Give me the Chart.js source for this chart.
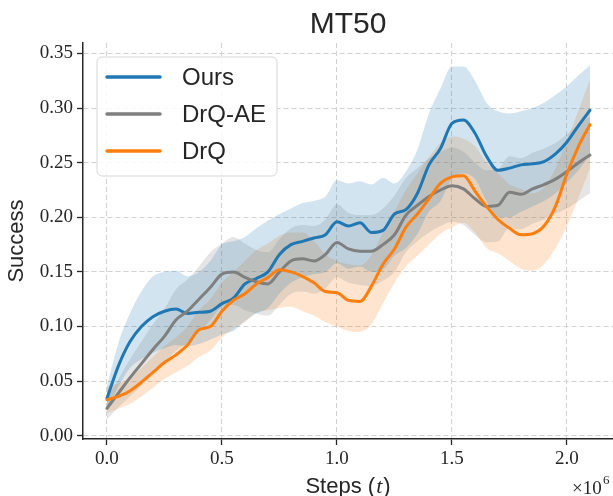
<!DOCTYPE html>
<html>
<head>
<meta charset="utf-8">
<script src="https://cdn.jsdelivr.net/npm/chart.js@4.4.0/dist/chart.umd.min.js"></script>
<style>
  html, body { margin: 0; padding: 0; background: #fff; }
</style>
</head>
<body>
<canvas id="chart" width="613" height="496"></canvas>
<script>
var chartTitle = 'MT50';
var seriesNames = ['Ours', 'DrQ-AE', 'DrQ'];
var xTicks = [0, 0.5, 1, 1.5, 2];
var yTicks = [0, 0.05, 0.1, 0.15, 0.2, 0.25, 0.3, 0.35];

// steps in millions
var steps = [0.00, 0.05, 0.10, 0.15, 0.20, 0.25, 0.30, 0.35, 0.40, 0.45,
             0.50, 0.55, 0.60, 0.65, 0.70, 0.75, 0.80, 0.85, 0.90, 0.95,
             1.00, 1.05, 1.10, 1.15, 1.20, 1.25, 1.30, 1.35, 1.40, 1.45,
             1.50, 1.55, 1.60, 1.65, 1.70, 1.75, 1.80, 1.85, 1.90, 1.95,
             2.00, 2.05, 2.10];

var oursMean = [0.034, 0.064, 0.086, 0.100, 0.109, 0.114, 0.116, 0.112, 0.113, 0.114,
                0.121, 0.126, 0.139, 0.144, 0.150, 0.166, 0.175, 0.178, 0.181, 0.184,
                0.196, 0.192, 0.195, 0.186, 0.188, 0.203, 0.207, 0.222, 0.248, 0.263,
                0.286, 0.289, 0.277, 0.256, 0.243, 0.245, 0.248, 0.249, 0.251, 0.258,
                0.269, 0.284, 0.298];
var oursLow = [0.024, 0.045, 0.062, 0.070, 0.076, 0.080, 0.083, 0.082, 0.084, 0.088,
               0.093, 0.096, 0.105, 0.112, 0.117, 0.130, 0.140, 0.145, 0.148, 0.150,
               0.158, 0.153, 0.155, 0.150, 0.152, 0.165, 0.172, 0.185, 0.205, 0.215,
               0.235, 0.240, 0.235, 0.215, 0.200, 0.200, 0.205, 0.210, 0.215, 0.222,
               0.232, 0.243, 0.258];
var oursHigh = [0.045, 0.085, 0.112, 0.132, 0.146, 0.150, 0.151, 0.146, 0.150, 0.160,
                0.175, 0.178, 0.182, 0.190, 0.197, 0.203, 0.208, 0.213, 0.215, 0.219,
                0.234, 0.231, 0.233, 0.230, 0.236, 0.231, 0.242, 0.262, 0.295, 0.318,
                0.338, 0.338, 0.325, 0.305, 0.297, 0.295, 0.297, 0.300, 0.305, 0.312,
                0.320, 0.330, 0.339];

var drqaeMean = [0.025, 0.039, 0.053, 0.066, 0.079, 0.091, 0.106, 0.114, 0.125, 0.136,
                 0.148, 0.150, 0.145, 0.141, 0.139, 0.150, 0.160, 0.162, 0.160, 0.166,
                 0.177, 0.171, 0.169, 0.169, 0.175, 0.184, 0.202, 0.211, 0.219, 0.225,
                 0.229, 0.226, 0.217, 0.210, 0.211, 0.223, 0.221, 0.226, 0.230, 0.235,
                 0.242, 0.250, 0.257];
var drqaeLow = [0.015, 0.026, 0.036, 0.046, 0.056, 0.066, 0.078, 0.085, 0.095, 0.106,
                0.118, 0.120, 0.115, 0.112, 0.110, 0.120, 0.130, 0.132, 0.130, 0.135,
                0.145, 0.140, 0.138, 0.137, 0.142, 0.150, 0.168, 0.178, 0.186, 0.192,
                0.196, 0.193, 0.184, 0.177, 0.178, 0.190, 0.189, 0.194, 0.198, 0.203,
                0.208, 0.215, 0.222];
var drqaeHigh = [0.035, 0.052, 0.070, 0.086, 0.102, 0.116, 0.134, 0.143, 0.155, 0.168,
                 0.176, 0.182, 0.176, 0.170, 0.168, 0.180, 0.190, 0.193, 0.192, 0.198,
                 0.212, 0.204, 0.202, 0.202, 0.208, 0.220, 0.236, 0.245, 0.254, 0.260,
                 0.264, 0.260, 0.250, 0.243, 0.244, 0.256, 0.254, 0.259, 0.263, 0.268,
                 0.276, 0.285, 0.292];

var drqMean = [0.033, 0.036, 0.041, 0.049, 0.058, 0.067, 0.074, 0.083, 0.097, 0.100,
               0.114, 0.124, 0.130, 0.139, 0.145, 0.152, 0.150, 0.146, 0.140, 0.132,
               0.131, 0.124, 0.123, 0.137, 0.157, 0.171, 0.191, 0.203, 0.217, 0.231,
               0.237, 0.238, 0.224, 0.210, 0.198, 0.190, 0.184, 0.185, 0.192, 0.210,
               0.240, 0.265, 0.285];
var drqLow = [0.021, 0.025, 0.029, 0.036, 0.044, 0.052, 0.058, 0.064, 0.072, 0.078,
              0.090, 0.098, 0.104, 0.113, 0.115, 0.117, 0.118, 0.114, 0.110, 0.104,
              0.100, 0.096, 0.095, 0.102, 0.121, 0.140, 0.155, 0.165, 0.175, 0.185,
              0.191, 0.195, 0.186, 0.172, 0.167, 0.160, 0.153, 0.151, 0.157, 0.172,
              0.192, 0.218, 0.245];
var drqHigh = [0.045, 0.048, 0.053, 0.062, 0.072, 0.082, 0.090, 0.100, 0.115, 0.125,
               0.140, 0.150, 0.160, 0.170, 0.176, 0.183, 0.186, 0.186, 0.178, 0.166,
               0.160, 0.157, 0.156, 0.165, 0.186, 0.205, 0.225, 0.240, 0.255, 0.268,
               0.274, 0.272, 0.265, 0.250, 0.240, 0.230, 0.226, 0.222, 0.227, 0.245,
               0.270, 0.298, 0.326];

var colors = ['#1f77b4', '#7f7f7f', '#ff7f0e'];
var bandColors = ['rgba(31,119,180,0.2)', 'rgba(127,127,127,0.2)', 'rgba(255,127,14,0.2)'];
var textColor = '#262626';

function pts(arr) {
    return arr.map(function (v, i) { return { x: steps[i], y: v }; });
}

function band(low, high, color) {
    return [
        { data: pts(low), borderColor: 'rgba(0,0,0,0)', pointRadius: 0, fill: false, order: 10,
          cubicInterpolationMode: 'monotone' },
        { data: pts(high), borderColor: 'rgba(0,0,0,0)', pointRadius: 0, fill: '-1', backgroundColor: color, order: 10,
          cubicInterpolationMode: 'monotone' }
    ];
}

function line(name, mean, color, order) {
    return { label: name, data: pts(mean), borderColor: color, borderWidth: 3, pointRadius: 0,
             fill: false, order: order, borderJoinStyle: 'round', borderCapStyle: 'round',
             cubicInterpolationMode: 'monotone' };
}

var datasets = []
    .concat(band(oursLow, oursHigh, bandColors[0]))
    .concat(band(drqaeLow, drqaeHigh, bandColors[1]))
    .concat(band(drqLow, drqHigh, bandColors[2]))
    .concat([
        line(seriesNames[0], oursMean, colors[0], 3),
        line(seriesNames[1], drqaeMean, colors[1], 2),
        line(seriesNames[2], drqMean, colors[2], 1)
    ]);

// title, inner legend, italic t of the x label and the x10^6 offset label
var decorPlugin = {
    id: 'decor',
    afterDraw: function (chart) {
        var ctx = chart.ctx, area = chart.chartArea;
        ctx.save();
        ctx.fillStyle = textColor;
        ctx.font = '30px "Liberation Sans"';
        ctx.textAlign = 'center';
        ctx.textBaseline = 'middle';
        ctx.fillText(chartTitle, (area.left + area.right) / 2, 25);

        // x axis label: "Steps (" + italic t + ")"
        var cx = (area.left + area.right) / 2;
        var a = 'Steps (', t = 't', b = ')';
        ctx.textAlign = 'left';
        ctx.textBaseline = 'alphabetic';
        ctx.font = '22px "Liberation Sans"';
        var wa = ctx.measureText(a).width, wb = ctx.measureText(b).width;
        ctx.font = 'italic 22px "Liberation Serif"';
        var wt = ctx.measureText(t).width + 2;
        var x0 = cx - (wa + wt + wb) / 2;
        ctx.font = '22px "Liberation Sans"';
        ctx.fillText(a, x0, 493);
        ctx.font = 'italic 22px "Liberation Serif"';
        ctx.fillText(t, x0 + wa + 1, 493);
        ctx.font = '22px "Liberation Sans"';
        ctx.fillText(b, x0 + wa + wt, 493);

        ctx.font = '19px "Liberation Serif"';
        ctx.fillText('\u00d710', 572, 494);
        ctx.font = '13px "Liberation Serif"';
        ctx.fillText('6', 603, 484);

        // legend box
        var bx = 97, by = 57, bw = 180, bh = 119, r = 5;
        ctx.beginPath();
        ctx.moveTo(bx + r, by);
        ctx.arcTo(bx + bw, by, bx + bw, by + bh, r);
        ctx.arcTo(bx + bw, by + bh, bx, by + bh, r);
        ctx.arcTo(bx, by + bh, bx, by, r);
        ctx.arcTo(bx, by, bx + bw, by, r);
        ctx.closePath();
        ctx.fillStyle = 'rgba(255,255,255,0.85)';
        ctx.fill();
        ctx.strokeStyle = '#d6d6d6';
        ctx.lineWidth = 1;
        ctx.stroke();

        ctx.font = '24px "Liberation Sans"';
        ctx.textBaseline = 'middle';
        for (var i = 0; i < seriesNames.length; i++) {
            var yy = 77 + i * 37;
            ctx.strokeStyle = colors[i];
            ctx.lineWidth = 3.5;
            ctx.lineCap = 'round';
            ctx.beginPath();
            ctx.moveTo(107, yy);
            ctx.lineTo(160, yy);
            ctx.stroke();
            ctx.fillStyle = textColor;
            ctx.fillText(seriesNames[i], 182, yy + 1);
        }
        ctx.restore();
    }
};

var ctx = document.getElementById('chart').getContext('2d');
var chart = new Chart(ctx, {
    type: 'line',
    data: { datasets: datasets },
    plugins: [decorPlugin],
    options: {
        responsive: false,
        animation: false,
        devicePixelRatio: 1,
        layout: { padding: { top: 43, left: 0, right: 0, bottom: 0 } },
        plugins: {
            legend: { display: false },
            tooltip: { enabled: false },
            filler: { propagate: false }
        },
        scales: {
            x: {
                type: 'linear',
                min: -0.104,
                max: 2.2,
                afterBuildTicks: function (s) { s.ticks = xTicks.map(function (v) { return { value: v }; }); },
                afterFit: function (s) { s.height = 57; },
                ticks: {
                    color: textColor,
                    font: { family: '"Liberation Serif"', size: 19 },
                    padding: 3,
                    maxRotation: 0,
                    callback: function (v) { return Number(v).toFixed(1); }
                },
                grid: { color: '#d2d2d2', lineWidth: 1, tickColor: textColor, tickLength: 6, tickWidth: 1.3 },
                border: { display: true, color: textColor, width: 1.5, dash: [5, 3] }
            },
            y: {
                type: 'linear',
                min: -0.003,
                max: 0.3596,
                afterBuildTicks: function (s) { s.ticks = yTicks.map(function (v) { return { value: v }; }); },
                afterFit: function (s) { s.width = 83; },
                ticks: {
                    color: textColor,
                    font: { family: '"Liberation Serif"', size: 19 },
                    padding: 4,
                    callback: function (v) { return Number(v).toFixed(2); }
                },
                grid: { color: '#d2d2d2', lineWidth: 1, tickColor: textColor, tickLength: 6, tickWidth: 1.3 },
                border: { display: true, color: textColor, width: 1.5, dash: [5, 3] },
                title: {
                    display: true, text: 'Success', color: textColor,
                    font: { family: '"Liberation Sans"', size: 22, lineHeight: 1.2 },
                    padding: { top: 4, bottom: 0 }
                }
            }
        }
    }
});
</script>
</body>
</html>
